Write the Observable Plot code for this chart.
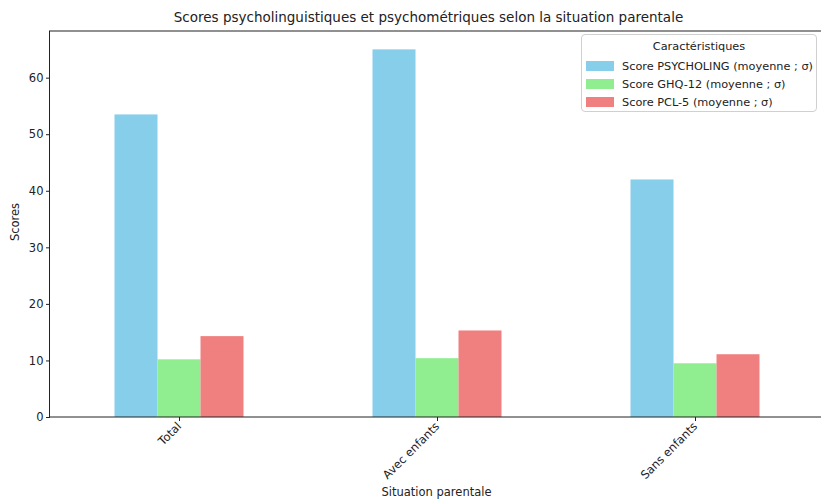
<!DOCTYPE html>
<html>
<head>
<meta charset="utf-8">
<script src="https://cdn.jsdelivr.net/npm/d3@7"></script>
<script src="https://cdn.jsdelivr.net/npm/@observablehq/plot@0.6"></script>
<style>
  body { margin: 0; background: #fff; font-family: "DejaVu Sans", sans-serif; color: #222; }
  #wrap { position: relative; width: 821px; height: 504px; overflow: hidden; }
  #chart svg { max-width: none !important; }
  #title { height: 22px; box-sizing: border-box; padding-left: 36px; text-align: center; font-size: 13.5px; line-height: 15px; padding-top: 10px; white-space: nowrap; }
  #xlabel { position: absolute; left: 49px; right: -3px; top: 485px; text-align: center; font-size: 11.5px; }
  #ylabel { position: absolute; left: 15px; top: 222px; font-size: 11.5px; transform: translate(-50%, -50%) rotate(-90deg); white-space: nowrap; }
  #legend { position: absolute; left: 581px; top: 34px; width: 236px; height: 78px; box-sizing: border-box; border: 1px solid #d0d0d0; border-radius: 4px; background: rgba(255,255,255,0.85); font-size: 11.3px; }
  #legend .lt { text-align: center; margin-top: 5px; height: 17px; }
  #legend .row { display: flex; align-items: center; height: 18px; padding-left: 4px; white-space: nowrap; }
  #legend .sw { width: 28px; height: 10px; margin-right: 8px; }
</style>
</head>
<body>
<div id="wrap">
  <div id="title">Scores psycholinguistiques et psychométriques selon la situation parentale</div>
  <div id="chart"></div>
  <div id="xlabel">Situation parentale</div>
  <div id="ylabel">Scores</div>
  <div id="legend"></div>
</div>
<script>
const categories = ["Total", "Avec enfants", "Sans enfants"];
const series = ["Score PSYCHOLING (moyenne ; σ)", "Score GHQ-12 (moyenne ; σ)", "Score PCL-5 (moyenne ; σ)"];
const psycholing = [53.5, 65.0, 42.0];
const ghq12 = [10.2, 10.4, 9.5];
const pcl5 = [14.3, 15.3, 11.1];
const colors = ["#87CEEB", "#90EE90", "#F08080"];
const yTicks = [0, 10, 20, 30, 40, 50, 60];
const legendTitle = "Caractéristiques";

const valuesBySeries = [psycholing, ghq12, pcl5];
const table = [];
categories.forEach((c, i) => {
  series.forEach((s, j) => table.push({cat: c, series: s, value: valuesBySeries[j][i]}));
});

// the axes box runs slightly past the right edge of the picture (cropped), as in the reference
const W = 825, H = 482, mL = 49.5, mR = 1.5, mT = 9, mB = 87;
const yMax = d3.max(table, d => d.value) * 1.05;

const chart = Plot.plot({
  width: W, height: H,
  marginLeft: mL, marginRight: mR, marginTop: mT, marginBottom: mB,
  style: { fontFamily: "DejaVu Sans, sans-serif", fontSize: "11.5px", color: "#222", background: "transparent", maxWidth: "none" },
  fx: { domain: categories, padding: 0, label: null, tickRotate: -45, tickSize: 4, tickPadding: 3 },
  x: { domain: series, paddingInner: 0, paddingOuter: 1.5, axis: null },
  y: { domain: [0, yMax], ticks: yTicks, tickSize: 4, tickPadding: 3, label: null },
  color: { domain: series, range: colors },
  marks: [
    Plot.barY(table, { fx: "cat", x: "series", y: "value", fill: "series", inset: 0 })
  ]
});
document.getElementById("chart").appendChild(chart);

// axes frame (matplotlib spines)
const svg = d3.select(chart.tagName.toLowerCase() === "svg" ? chart : chart.querySelector("svg"));
svg.style("max-width", "none");
svg.append("rect")
  .attr("x", mL).attr("y", mT)
  .attr("width", W - mL - mR).attr("height", H - mT - mB)
  .attr("fill", "none").attr("stroke", "#222").attr("stroke-width", 1);

// legend
const lg = d3.select("#legend");
lg.append("div").attr("class", "lt").text(legendTitle);
series.forEach((s, i) => {
  const r = lg.append("div").attr("class", "row");
  r.append("div").attr("class", "sw").style("background", colors[i]);
  r.append("span").text(s);
});
</script>
</body>
</html>
